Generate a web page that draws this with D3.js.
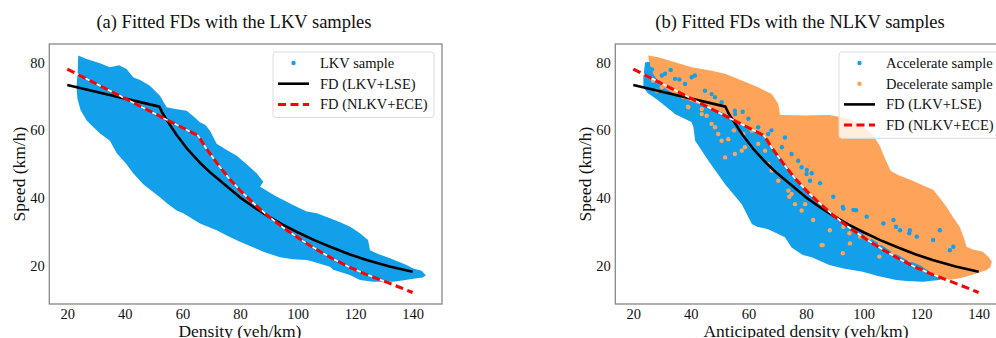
<!DOCTYPE html>
<html>
<head>
<meta charset="utf-8">
<script src="https://cdn.jsdelivr.net/npm/d3@7"></script>
<style>
  body { margin: 0; background: #fff; }
  svg { display: block; font-family: "Liberation Serif", "Times New Roman", serif; }
</style>
</head>
<body>
<svg id="chart" width="996" height="338"></svg>
<script>
// ---- data ----
const densityTicks = [20, 40, 60, 80, 100, 120, 140];
const speedTicks = [20, 40, 60, 80];

// fitted fundamental diagrams [density, speed]
const fdLKV = [[20,73.4],[52,67],[53,65.2],[55,62.5],[58,58.6],[62,54.2],[66,50.5],[70,47.3],[75,43.8],[80,40.2],
  [85,37.2],[90,34.5],[95,32.1],[100,29.9],[106,27.5],[112,25.4],[118,23.4],[124,21.7],[132,19.8],[140,18.2]];
const fdNLKV = [[20,78.1],[65.5,58.4],[68,55],[72,50.3],[76,46],[80,42.3],[84,39],[89.3,35],[95,31.3],
  [101,27.8],[107,24.6],[112.4,22],[118,19.6],[124,17.4],[132,14.8],[140,12.1]];

// LKV sample cloud outline (upper edge left->right, then lower edge right->left)
const lkvUpper = [[23.6,77],[23.8,82.1],[26.7,81.1],[31.4,79.8],[34.8,78.6],[38,79.2],[40.6,78.1],[42.9,75.7],
  [45.3,74.9],[48.7,73.2],[52.2,70.2],[54.5,66.8],[57,66.4],[61.5,65.8],[64,64],[66.1,62.4],[68,61.6],[69.6,59.9],
  [71.9,56],[75.4,54.2],[78.9,52.5],[80,51.7],[83.5,49.1],[85.8,47.3],[88.1,44.8],[87,43.3],[92.8,40.4],[95.1,39.4],
  [98.6,37.9],[103.2,36],[106.7,35.5],[111.3,34],[115,32.8],[118.3,31.5],[121.7,29.6],[124.5,27.6],[125.2,24.6],
  [128,23.5],[132.1,22.2],[137.9,20.2],[140.2,19.2],[143.1,18.5],[144.6,17.2]];
const lkvLower = [[143.5,16.5],[141.4,16.3],[137,15.7],[133.3,15.3],[126.3,15.3],[121.7,15.8],[118.2,17.3],
  [112.4,18.8],[111.3,19.7],[105.5,21.2],[103.2,21.7],[98.5,21.9],[93.9,22.5],[88.1,24.1],[87,24.6],[83.5,25.8],
  [80,27.1],[75.4,28.9],[71.9,30.5],[66.1,32.5],[60.3,35.5],[58,36.3],[54.5,38.5],[52.2,40.2],[48.7,42.5],
  [46.4,44.1],[42.9,47.3],[40.6,50],[37.2,53.2],[34.8,56.9],[31.4,59.1],[28,61.8],[26.7,63],[24.6,66],
  [23.5,69.5],[23.2,73]];

// NLKV samples: decelerate cloud outline
const decUpper = [[25.5,80],[25.2,82.1],[28.7,81.6],[34.5,80.1],[40.3,78.6],[47.2,77.6],[51.9,76.7],[57.7,74.7],
  [63.4,72.7],[68.1,70.7],[70.4,67.8],[71,64.5],[80,64.4],[88,64.5],[95,63.5],[99.7,61.1],[103,59],[105.6,55.5],
  [107.5,51.5],[109.5,48],[112,46.8],[116,45.5],[120,44],[124.3,42.4],[126.5,40],[128.8,37.4],[131,34.5],
  [133.4,31.5],[135,28],[135.8,25.6],[138,24.8],[141.5,24.1],[143.5,22.5],[144.6,21.2],[144,19.5],[142.6,18.7],
  [139.5,17.8],[135.8,16.8],[133,16.2],[129,15.8]];
const decLower = [[126,16.5],[120,20],[115,21.8],[110,24],[105,26.8],[100,29.2],[95,32],[90,35],[85,38.5],
  [80,42.5],[76,46.5],[72,51],[69,54.5],[66,57.8],[62,60],[57,62.3],[52,64.8],[46,66.8],[40,68.6],[34,70.8],
  [30,73],[27,76.5]];
// NLKV samples: accelerate cloud outline
const accUpper = [[23.5,76],[24.1,80.1],[26,79.5],[30,77],[35,74.5],[40,72],[46,69.5],[52,67.5],[57,65],
  [62,62.5],[66,60.5],[69,57.5],[72,54],[76,49.5],[80,45.5],[85,41],[90,37.5],[95,34.5],[100,31.5],[105,29],
  [110,26.5],[115,24],[120,22],[126,18.5],[128,16.5]];
const accLower = [[126.3,15.8],[120.6,15.3],[115,15.5],[111.3,15.8],[105,17],[99.7,18.2],[93,19.2],[88.1,20.2],
  [82,22.5],[78.9,23.2],[75,25.4],[72.7,28.4],[66.9,30.8],[63,31.5],[61.2,32.3],[57.7,38.2],[51.9,44.1],
  [46.1,51],[41.5,56.9],[40.9,60.9],[40.3,62.4],[34.5,64.8],[28.7,68.8],[25,71],[23.5,72.7]];

// scattered samples straying across the boundary
const accStray = [[25.1,79.6],[26.5,78],[31,76.7],[33,77.8],[40.3,75.7],[44.9,71.7],[48.4,69.8],[55.4,64.8],
  [63.4,60.9],[72.7,57.9],[77.3,51],[80.2,47.1],[82,47.3],[92.8,37.4],[93,36.9],[97.4,36.4],[110.4,33.5],
  [111.3,31.5],[115.9,29.6],[116.1,30.5],[126.5,30.5],[131.2,25.6],[36,75],[58,65.5],[68,60],
  [29.9,76.2],[34.5,75.2],[38,73.7],[41.4,76.2],[47.2,70.7],[50.7,68.3],[55.3,65.8],[60,63.4],[66.9,58.9],
  [71.6,55],[75,53],[78.5,49.1],[81.4,45.1],[80.3,48.3],[84.9,44.4],[89.5,40.4],[96.5,36.5],[101.1,34.5],
  [106.9,32.5],[112.7,30.5],[118.5,28.6],[124.2,27.6],[130,24.6]];
const decStray = [[29.9,72.7],[35.6,71.2],[43.8,64.8],[48.4,60.9],[50.7,56.9],[51.9,52],[58.8,55],[61.2,59.9],
  [66.9,50.1],[74.2,40.4],[75,41.2],[79.7,38.2],[80,46.3],[85.4,26.1],[85.8,26.1],[92.8,23.7],[95.1,29.6],
  [95.3,26.6],[101.1,28.6],[102,28.1],[105.5,22.7],[112.7,25.6],[119.6,26.6],[123.1,20.7],[39,67],[55,60],
  [26.9,74.7],[28.1,71.7],[32.2,73.2],[37.4,69.8],[39.1,66.8],[43.8,66.3],[45.5,64.3],[47.2,61.9],[49.5,58.9],
  [53,57.4],[55.3,53],[57.7,54],[58.2,58.9],[63.4,56],[65.8,54],[68.1,48.1],[70.4,45.1],[73.9,42.2],[76.2,38.2],
  [78.5,36.3],[82.5,33.5],[88.3,30.5],[93,31.5],[98.8,28.6],[105.7,26.6],[110.3,23.7],[116.1,21.7],[121.9,19.7],
  [126.5,18.2]];

// ---- drawing ----
const blue = "#13a0ea", orange = "#fda35a";
const svg = d3.select("#chart");

function drawPanel(p) {
  const x = d3.scaleLinear().domain([13.75, 150.2]).range([p.left, p.left + 392.7]);
  const y = d3.scaleLinear().domain([8.7, 85.5]).range([304, 44]);
  const g = svg.append("g");
  const clipId = "clip" + p.id;
  g.append("clipPath").attr("id", clipId).append("rect")
    .attr("x", p.left).attr("y", 44).attr("width", 392.7).attr("height", 260);
  const plot = g.append("g").attr("clip-path", `url(#${clipId})`);
  const line = d3.line().x(d => x(d[0])).y(d => y(d[1]));

  p.clouds.forEach(c => {
    plot.append("path").attr("d", line(c.upper.concat(c.lower)) + "Z").attr("fill", c.color);
  });
  p.strays.forEach(s => {
    plot.selectAll(null).data(s.pts).enter().append("circle")
      .attr("cx", d => x(d[0])).attr("cy", d => y(d[1])).attr("r", 2.2).attr("fill", s.color);
  });

  plot.append("path").attr("d", line(fdLKV)).attr("fill", "none")
    .attr("stroke", "#000").attr("stroke-width", 2.6).attr("stroke-linejoin", "round");
  plot.append("path").attr("d", line(fdNLKV)).attr("fill", "none")
    .attr("stroke", "#fff").attr("stroke-width", 1.6);
  plot.append("path").attr("d", line(fdNLKV)).attr("fill", "none")
    .attr("stroke", "#ff0000").attr("stroke-width", 3).attr("stroke-dasharray", "8,4.5");

  g.append("rect").attr("x", p.left).attr("y", 44).attr("width", 392.7).attr("height", 260)
    .attr("fill", "none").attr("stroke", "#888").attr("stroke-width", 1.3);

  const xa = g.append("g").attr("transform", "translate(0,304)")
    .call(d3.axisBottom(x).tickValues(densityTicks).tickSize(0).tickPadding(4.5));
  const ya = g.append("g").attr("transform", `translate(${p.left},0)`)
    .call(d3.axisLeft(y).tickValues(speedTicks).tickSize(0).tickPadding(4.5));
  [xa, ya].forEach(a => {
    a.attr("font-family", null).attr("font-size", 14.5);
    a.select(".domain").remove();
    a.selectAll("text").attr("fill", "#111");
  });

  g.append("text").attr("x", p.titleX).attr("y", 28).attr("text-anchor", "middle")
    .attr("font-size", 18.5).attr("fill", "#111").text(p.title);
  g.append("text").attr("x", x(80)).attr("y", 336.5).attr("text-anchor", "middle")
    .attr("font-size", 17.5).attr("fill", "#111").text(p.xLabel);
  g.append("text").attr("transform", `translate(${p.yLabelX},174) rotate(-90)`).attr("text-anchor", "middle")
    .attr("font-size", 17.5).attr("fill", "#111").text("Speed (km/h)");

  // legend
  const lg = g.append("g");
  lg.append("rect").attr("x", p.legX).attr("y", 52).attr("width", p.legW).attr("height", 20.7 * p.legend.length + 3.5)
    .attr("rx", 3).attr("fill", "#fff").attr("fill-opacity", 0.8).attr("stroke", "#dcdcdc");
  p.legend.forEach((e, i) => {
    const cy = 63 + i * 20.7;
    const mx = p.legX + 5;
    if (e.type === "dot") {
      lg.append("circle").attr("cx", mx + 15.5).attr("cy", cy).attr("r", 2.2).attr("fill", e.color);
    } else {
      lg.append("line").attr("x1", mx).attr("x2", mx + 31).attr("y1", cy).attr("y2", cy)
        .attr("stroke", e.color).attr("stroke-width", e.type === "dash" ? 3 : 2.6)
        .attr("stroke-dasharray", e.type === "dash" ? "8,4.5" : null);
    }
    lg.append("text").attr("x", p.legX + 47).attr("y", cy + 5).attr("font-size", 14.5).attr("fill", "#111")
      .text(e.label);
  });
}

drawPanel({
  id: "a", left: 49.3, titleX: 234, yLabelX: 24.5,
  title: "(a) Fitted FDs with the LKV samples", xLabel: "Density (veh/km)",
  clouds: [{ upper: lkvUpper, lower: lkvLower, color: blue }],
  strays: [],
  legX: 273, legW: 161,
  legend: [
    { type: "dot", color: blue, label: "LKV sample" },
    { type: "line", color: "#000", label: "FD (LKV+LSE)" },
    { type: "dash", color: "#ff0000", label: "FD (NLKV+ECE)" }
  ]
});

drawPanel({
  id: "b", left: 615.3, titleX: 800, yLabelX: 590.5,
  title: "(b) Fitted FDs with the NLKV samples", xLabel: "Anticipated density (veh/km)",
  clouds: [{ upper: accUpper, lower: accLower, color: blue }, { upper: decUpper, lower: decLower, color: orange }],
  strays: [{ pts: decStray, color: orange }, { pts: accStray, color: blue }],
  legX: 839, legW: 170,
  legend: [
    { type: "dot", color: blue, label: "Accelerate sample" },
    { type: "dot", color: orange, label: "Decelerate sample" },
    { type: "line", color: "#000", label: "FD (LKV+LSE)" },
    { type: "dash", color: "#ff0000", label: "FD (NLKV+ECE)" }
  ]
});
</script>
</body>
</html>
